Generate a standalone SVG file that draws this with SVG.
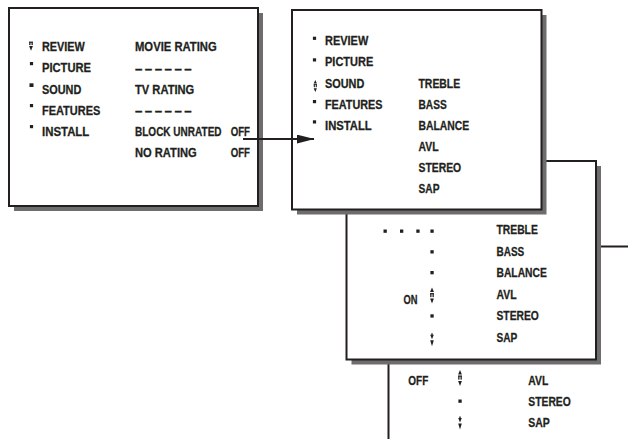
<svg xmlns="http://www.w3.org/2000/svg" xmlns:xlink="http://www.w3.org/1999/xlink" width="628" height="439" viewBox="0 0 628 439">
<style>
  text { font-family: "Liberation Sans", Arial, sans-serif; font-weight: bold; font-size: 13.3px; fill: #231f20; stroke: #231f20; stroke-width: 0.3px; }
  .frame { fill: #fff; stroke: #231f20; stroke-width: 2; }
  .shadow { fill: #6d6d6d; }
  .conn { stroke: #231f20; stroke-width: 2.2; fill: none; }
  .b { fill: #231f20; }
</style>
<defs>
  <g id="ud">
    <polygon points="0,0 -1.9,4.6 1.9,4.6" fill="#231f20"/>
    <rect x="-1.8" y="5.6" width="1.3" height="4" fill="#231f20"/>
    <rect x="0.5" y="5.6" width="1.3" height="4" fill="#231f20"/>
    <rect x="-1.8" y="5.6" width="3.6" height="1.1" fill="#231f20"/>
    <polygon points="-1.9,11 1.9,11 0,16" fill="#231f20"/>
  </g>
  <g id="dn">
    <rect x="-1.8" y="0" width="1.3" height="3.4" fill="#231f20"/>
    <rect x="0.5" y="0" width="1.3" height="3.4" fill="#231f20"/>
    <rect x="-1.8" y="0" width="3.6" height="1.1" fill="#231f20"/>
    <polygon points="-1.9,4.4 1.9,4.4 0,9" fill="#231f20"/>
  </g>
  <g id="dd">
    <rect x="-0.7" y="0" width="1.4" height="1.6" fill="#231f20"/>
    <polygon points="-1.8,1.5 1.8,1.5 0,6" fill="#231f20"/>
    <polygon points="-1.8,7 1.8,7 0,13" fill="#231f20"/>
  </g>
  <marker id="arr" viewBox="0 0 18 9" refX="17.5" refY="4.5" markerWidth="18" markerHeight="9" markerUnits="userSpaceOnUse" orient="auto">
    <polygon points="0,0 18,4.5 0,9" fill="#231f20"/>
  </marker>
</defs>

<!-- Box 4 (partially visible) -->
<g id="box4">
  <rect class="frame" x="388.5" y="246.5" width="320" height="260"/>
  <text x="408.3" y="385" textLength="20" lengthAdjust="spacingAndGlyphs">OFF</text>
  <use xlink:href="#ud" x="460" y="370"/>
  <rect class="b" x="458.4" y="399.5" width="3.3" height="3.3"/>
  <use xlink:href="#dd" x="460" y="416.5"/>
  <text x="528.3" y="385" textLength="20" lengthAdjust="spacingAndGlyphs">AVL</text>
  <text x="528.3" y="406" textLength="42.5" lengthAdjust="spacingAndGlyphs">STEREO</text>
  <text x="528.3" y="427" textLength="21.5" lengthAdjust="spacingAndGlyphs">SAP</text>
</g>

<!-- Box 3 -->
<g id="box3">
  <rect class="shadow" x="351.5" y="166" width="249.5" height="198.5"/>
  <rect class="frame" x="346.5" y="161" width="249.5" height="198.5"/>
  <rect class="b" x="383.5" y="229.5" width="3.3" height="3.3"/>
  <rect class="b" x="400" y="229.5" width="3.3" height="3.3"/>
  <rect class="b" x="416.3" y="229.5" width="3.3" height="3.3"/>
  <rect class="b" x="430.4" y="229.5" width="3.3" height="3.3"/>
  <rect class="b" x="430.4" y="250.2" width="3.3" height="3.3"/>
  <rect class="b" x="430.4" y="271" width="3.3" height="3.3"/>
  <use xlink:href="#ud" x="432" y="287.5"/>
  <rect class="b" x="430.4" y="314.3" width="3.3" height="3.3"/>
  <use xlink:href="#dd" x="432" y="333.3"/>
  <text x="403.5" y="303.5" textLength="14" lengthAdjust="spacingAndGlyphs">ON</text>
  <text x="496.5" y="234.3" textLength="41.3" lengthAdjust="spacingAndGlyphs">TREBLE</text>
  <text x="496.5" y="255.7" textLength="27.8" lengthAdjust="spacingAndGlyphs">BASS</text>
  <text x="496.5" y="277.3" textLength="50.3" lengthAdjust="spacingAndGlyphs">BALANCE</text>
  <text x="496.5" y="299" textLength="20" lengthAdjust="spacingAndGlyphs">AVL</text>
  <text x="496.5" y="320" textLength="42.3" lengthAdjust="spacingAndGlyphs">STEREO</text>
  <text x="496.5" y="341.7" textLength="20.8" lengthAdjust="spacingAndGlyphs">SAP</text>
</g>

<!-- Box 1 -->
<g id="box1">
  <rect class="shadow" x="14" y="13" width="249" height="198"/>
  <rect class="frame" x="9" y="8" width="249" height="198"/>
  <use xlink:href="#dn" x="31" y="41.7"/>
  <rect class="b" x="29.9" y="62" width="3.2" height="3.2"/>
  <rect class="b" x="29.5" y="83.3" width="4" height="3.7"/>
  <rect class="b" x="29.9" y="104" width="3.2" height="3.2"/>
  <rect class="b" x="29.9" y="125" width="3.2" height="3.2"/>
  <text x="42" y="51" textLength="42.8" lengthAdjust="spacingAndGlyphs">REVIEW</text>
  <text x="42" y="72.3" textLength="49" lengthAdjust="spacingAndGlyphs">PICTURE</text>
  <text x="42" y="93.5" textLength="39.3" lengthAdjust="spacingAndGlyphs">SOUND</text>
  <text x="42" y="114.5" textLength="58.3" lengthAdjust="spacingAndGlyphs">FEATURES</text>
  <text x="42" y="135.5" textLength="47.3" lengthAdjust="spacingAndGlyphs">INSTALL</text>
  <text x="135" y="51" textLength="81.7" lengthAdjust="spacingAndGlyphs">MOVIE RATING</text>
  <text x="135" y="72.5" textLength="56.7" lengthAdjust="spacing">– – – – – –</text>
  <text x="135" y="93.5" textLength="59.3" lengthAdjust="spacingAndGlyphs">TV RATING</text>
  <text x="135" y="114.5" textLength="56.7" lengthAdjust="spacing">– – – – – –</text>
  <text transform="translate(135,135.5) scale(0.753,1)" x="0" y="0">BLOCK UNRATED</text>
  <text x="230.7" y="135.5" textLength="19.3" lengthAdjust="spacingAndGlyphs">OFF</text>
  <text x="135" y="156.7" textLength="61.7" lengthAdjust="spacingAndGlyphs">NO RATING</text>
  <text x="230.7" y="156.7" textLength="19.3" lengthAdjust="spacingAndGlyphs">OFF</text>
</g>

<!-- Box 2 -->
<g id="box2">
  <rect class="shadow" x="297" y="15" width="249.5" height="199.5"/>
  <rect class="frame" x="292" y="10" width="249.5" height="199.5"/>
  <rect class="b" x="312.9" y="36.7" width="3.2" height="3.2"/>
  <rect class="b" x="312.9" y="58.3" width="3.2" height="3.2"/>
  <use xlink:href="#ud" transform="translate(315.3,80) scale(0.85,0.75)"/>
  <rect class="b" x="312.9" y="100" width="3.2" height="3.2"/>
  <rect class="b" x="312.9" y="120.3" width="3.2" height="3.2"/>
  <text x="325" y="45" textLength="43.3" lengthAdjust="spacingAndGlyphs">REVIEW</text>
  <text x="325" y="66.3" textLength="48.3" lengthAdjust="spacingAndGlyphs">PICTURE</text>
  <text x="325" y="88" textLength="39.3" lengthAdjust="spacingAndGlyphs">SOUND</text>
  <text x="325" y="108.8" textLength="57.5" lengthAdjust="spacingAndGlyphs">FEATURES</text>
  <text x="325" y="129.8" textLength="46.7" lengthAdjust="spacingAndGlyphs">INSTALL</text>
  <text x="418.5" y="88" textLength="41.7" lengthAdjust="spacingAndGlyphs">TREBLE</text>
  <text x="418.5" y="108.8" textLength="28.3" lengthAdjust="spacingAndGlyphs">BASS</text>
  <text x="418.5" y="129.8" textLength="50.7" lengthAdjust="spacingAndGlyphs">BALANCE</text>
  <text x="418.5" y="150.8" textLength="20" lengthAdjust="spacingAndGlyphs">AVL</text>
  <text x="418.5" y="172.3" textLength="42.7" lengthAdjust="spacingAndGlyphs">STEREO</text>
  <text x="418.5" y="193.4" textLength="21" lengthAdjust="spacingAndGlyphs">SAP</text>
</g>

<!-- Connectors -->
<g id="connectors">
  <line class="conn" x1="243" y1="139" x2="314" y2="139" marker-end="url(#arr)"/>
</g>
</svg>
